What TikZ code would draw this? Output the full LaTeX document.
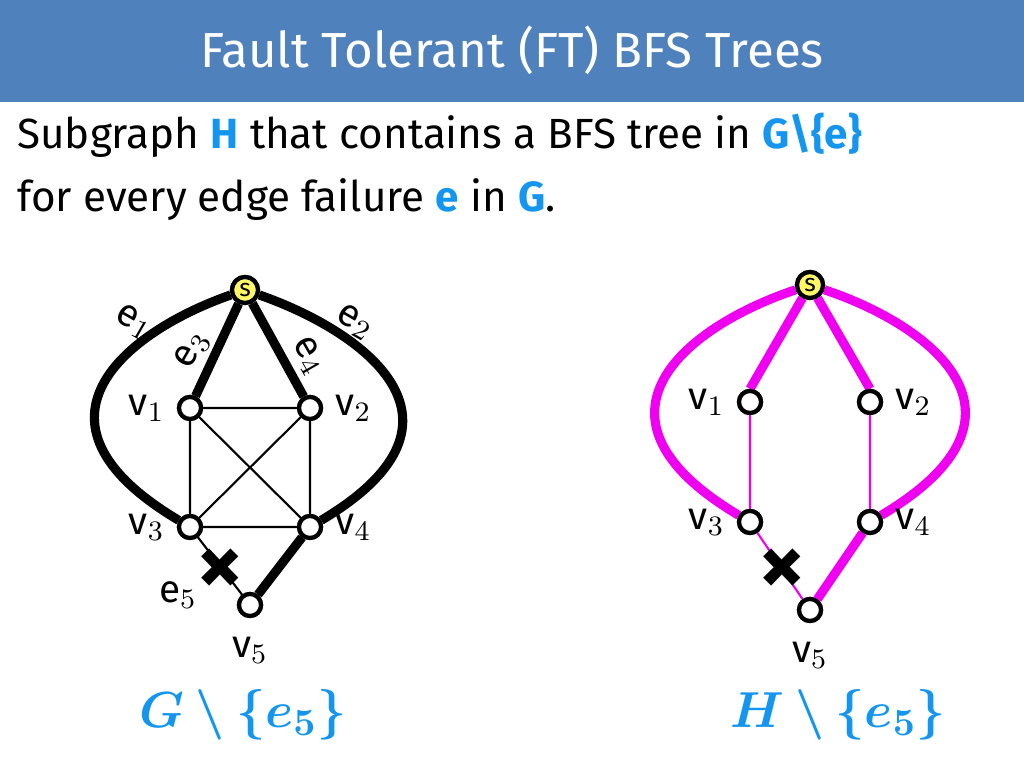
\documentclass[tikz,border=0pt]{standalone}
\usepackage{amsmath,amssymb,bm}
\usepackage{fontspec}
\setmainfont{Fira Sans}
\usetikzlibrary{positioning,calc}
\definecolor{hdr}{RGB}{79,129,189}
\definecolor{hblue}{RGB}{20,150,240}
\definecolor{mag}{RGB}{240,0,240}

\begin{document}
\begin{tikzpicture}[x=0.01cm,y=-0.01cm,
  vtx/.style={circle,draw,line width=1.2pt,fill=white,minimum size=0.22cm,inner sep=0pt},
  src/.style={circle,draw,line width=1.2pt,fill=yellow!60,minimum size=0.26cm,inner sep=0pt,font=\fontsize{7}{7}\selectfont},
  thick edge/.style={line width=2.6pt},
  thin edge/.style={line width=0.6pt},
  lbl/.style={font=\fontsize{11}{11}\selectfont},
  mtext/.style={font=\fontsize{12}{14}\selectfont}]
\useasboundingbox (0,0) rectangle (1024,768);
% header
\fill[hdr] (0,0) rectangle (1024,102);
\node[name=title,text=white,font=\fontsize{14}{14}\selectfont] at (512,50) {Fault Tolerant (FT) BFS Trees};
\node[name=line1,mtext,anchor=west] at (5,135) {Subgraph \textcolor{hblue}{\textbf{H}} that contains a BFS tree in \textcolor{hblue}{\textbf{G\textbackslash\{e\}}}};
\node[name=line2,mtext,anchor=west] at (5,200) {for every edge failure \textcolor{hblue}{\textbf{e}} in \textcolor{hblue}{\textbf{G}}.};

% left graph G
\node[src,name=gs] at (245,290) {s};
\node[vtx,name=g1] at (190,408) {};
\node[vtx,name=g2] at (310,408) {};
\node[vtx,name=g3] at (190,527) {};
\node[vtx,name=g4] at (310,527) {};
\node[vtx,name=g5] at (250,605) {};
\draw[thick edge] (gs) .. controls (130,330) and (10,420) .. (g3);
\draw[thick edge] (gs) .. controls (360,330) and (490,420) .. (g4);
\draw[thick edge] (gs) -- (g1);
\draw[thick edge] (gs) -- (g2);
\draw[thick edge] (g4) -- (g5);
\draw[thin edge] (g1) -- (g2) (g1) -- (g3) (g2) -- (g4) (g3) -- (g4) (g1) -- (g4) (g2) -- (g3) (g3) -- (g5);
\node[src] at (245,290) {s};
\foreach \n in {1,...,5}{\node[vtx] at (g\n.center) {};}
\node[name=gx,font=\fontsize{26}{26}\selectfont] at (220,572) {\textbf{×}};
\node[lbl,rotate=-30,name=le1] at (134,322) {e$_1$};
\node[lbl,rotate=60,name=le3] at (192,350) {e$_3$};
\node[lbl,rotate=-30,name=le2] at (355,322) {e$_2$};
\node[lbl,rotate=-60,name=le4] at (308,356) {e$_4$};
\node[lbl,name=le5] at (178,595) {e$_5$};
\node[lbl,left=0pt of g1] {v$_1$};
\node[lbl,right=0pt of g2] {v$_2$};
\node[lbl,left=0pt of g3] {v$_3$};
\node[lbl,right=0pt of g4] {v$_4$};
\node[lbl,below=2pt of g5] {v$_5$};
\node[name=glabel,text=hblue,font=\fontsize{15}{15}\selectfont] at (243,715) {$\bm{G\setminus\{e_5\}}$};

% right graph H
\node[src,name=hs] at (810,285) {s};
\node[vtx,name=h1] at (750,402) {};
\node[vtx,name=h2] at (870,402) {};
\node[vtx,name=h3] at (750,522) {};
\node[vtx,name=h4] at (870,522) {};
\node[vtx,name=h5] at (810,610) {};
\draw[thick edge,mag] (hs) .. controls (690,325) and (570,415) .. (h3);
\draw[thick edge,mag] (hs) .. controls (930,325) and (1050,415) .. (h4);
\draw[thick edge,mag] (hs) -- (h1.north);
\draw[thick edge,mag] (hs) -- (h2.north);
\draw[thick edge,mag] (h4) -- (h5);
\draw[thin edge,mag] (h1) -- (h3) (h2) -- (h4) (h3) -- (h5);
\node[src] at (810,285) {s};
\foreach \n in {1,...,5}{\node[vtx] at (h\n.center) {};}
\node[name=hx,font=\fontsize{26}{26}\selectfont] at (782,572) {\textbf{×}};
\node[lbl,left=0pt of h1] {v$_1$};
\node[lbl,right=0pt of h2] {v$_2$};
\node[lbl,left=0pt of h3] {v$_3$};
\node[lbl,right=0pt of h4] {v$_4$};
\node[lbl,below=2pt of h5] {v$_5$};
\node[name=hlabel,text=hblue,font=\fontsize{15}{15}\selectfont] at (838,715) {$\bm{H\setminus\{e_5\}}$};
\end{tikzpicture}
\end{document}
